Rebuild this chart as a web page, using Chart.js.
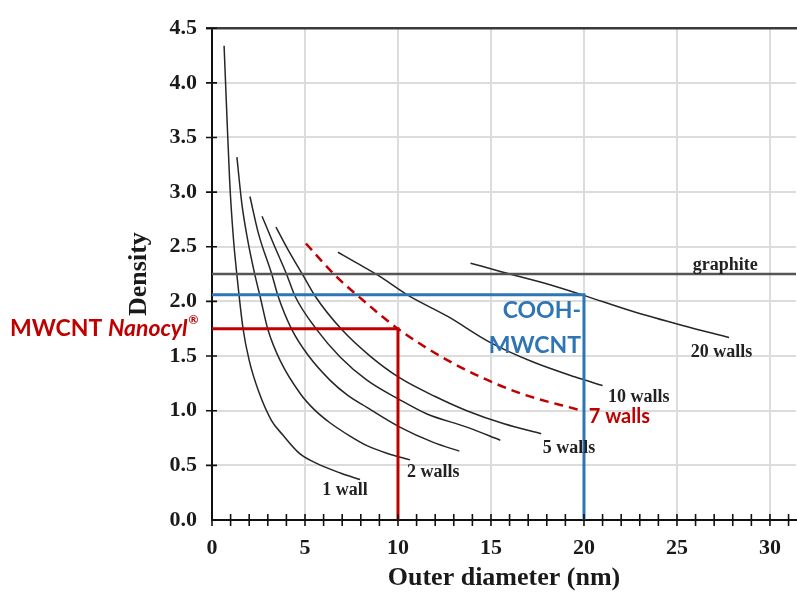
<!DOCTYPE html>
<html>
<head>
<meta charset="utf-8">
<script src="https://cdn.jsdelivr.net/npm/chart.js@4.4.0/dist/chart.umd.min.js"></script>
<style>
    html, body { margin: 0; padding: 0; background: #fff; }
</style>
</head>
<body>
<canvas id="densityChart" width="797" height="596"></canvas>
<script>
// outer diameter (nm) and density for each wall count
var d1 = [0.65, 0.8, 0.95, 1.15, 1.34, 1.67, 2.0, 2.5, 3.2, 3.8, 4.7, 5.6, 6.9, 7.96];
var rho1 = [4.34, 3.7, 3.1, 2.58, 2.24, 1.75, 1.46, 1.18, 0.91, 0.78, 0.61, 0.52, 0.43, 0.37];

var d2 = [1.34, 1.6, 1.9, 2.31, 2.58, 3.01, 3.66, 4.73, 5.5, 6.34, 7.4, 8.33, 9.4, 10.65];
var rho2 = [3.32, 2.9, 2.58, 2.24, 2.05, 1.74, 1.46, 1.16, 1.01, 0.89, 0.77, 0.68, 0.61, 0.55];

var d3 = [2.04, 2.5, 3.23, 3.55, 4.3, 5.2, 6.34, 7.3, 8.33, 10.1, 11.9, 13.3];
var rho3 = [2.96, 2.62, 2.24, 2.05, 1.74, 1.5, 1.28, 1.14, 1.03, 0.85, 0.71, 0.63];

var d4 = [2.69, 3.3, 4.03, 4.46, 5.64, 6.9, 8.33, 10.1, 11.56, 13.7, 15.5];
var rho4 = [2.78, 2.53, 2.24, 2.05, 1.74, 1.49, 1.28, 1.1, 0.97, 0.85, 0.73];

var d5 = [3.44, 4.1, 4.89, 5.54, 6.99, 8.5, 10.1, 12.0, 13.7, 15.7, 17.7];
var rho5 = [2.68, 2.47, 2.24, 2.05, 1.74, 1.5, 1.3, 1.13, 1.0, 0.88, 0.79];

var d7 = [5.05, 6.61, 7.85, 10.0, 12.9, 16.4, 19.9];
var rho7 = [2.53, 2.24, 2.05, 1.75, 1.44, 1.17, 1.0];

var d10 = [6.77, 7.8, 8.92, 10.5, 12.7, 14.9, 17.2, 19.5, 21.0];
var rho10 = [2.45, 2.35, 2.24, 2.06, 1.86, 1.63, 1.45, 1.31, 1.23];

var d20 = [13.9, 15.6, 17.8, 19.9, 22.6, 25.3, 27.8];
var rho20 = [2.35, 2.27, 2.17, 2.06, 1.91, 1.78, 1.67];

// graphite reference density
var graphiteRho = 2.25;

// measured samples: outer diameter and density
var nanocylD = 10;
var nanocylRho = 1.75;
var coohD = 20;
var coohRho = 2.06;

var xMax = 31.4;
var xTickStep = 1;
var yTickStep = 0.5;

function pts(xs, ys) {
    var out = [];
    for (var i = 0; i < xs.length; i++) {
        out.push({ x: xs[i], y: ys[i] });
    }
    return out;
}

var RED = '#c00000';
var BLUE = '#2e75b6';
var CURVE = '#262626';
var SERIF = '"Liberation Serif", "Times New Roman", serif';
var SANS = 'Lato, "Open Sans", sans-serif';

function curve(label, xs, ys) {
    return {
        label: label,
        data: pts(xs, ys),
        showLine: true,
        borderColor: CURVE,
        borderWidth: 1.5,
        pointRadius: 0,
        cubicInterpolationMode: 'monotone',
        fill: false
    };
}

var datasets = [
    {
        label: 'MWCNT Nanocyl',
        data: [{ x: 0, y: nanocylRho }, { x: nanocylD, y: nanocylRho }, { x: nanocylD, y: 0 }],
        showLine: true, borderColor: RED, borderWidth: 3, pointRadius: 0, tension: 0
    },
    {
        label: 'COOH-MWCNT',
        data: [{ x: 0, y: coohRho }, { x: coohD, y: coohRho }, { x: coohD, y: 0 }],
        showLine: true, borderColor: BLUE, borderWidth: 3, pointRadius: 0, tension: 0
    },
    {
        label: 'graphite',
        data: [{ x: 0, y: graphiteRho }, { x: xMax, y: graphiteRho }],
        showLine: true, borderColor: '#555555', borderWidth: 2.5, pointRadius: 0
    },
    {
        label: '7 walls',
        data: pts(d7, rho7),
        showLine: true, borderColor: RED, borderWidth: 2.5, borderDash: [9, 6],
        pointRadius: 0, cubicInterpolationMode: 'monotone'
    },
    curve('1 wall', d1, rho1),
    curve('2 walls', d2, rho2),
    curve('3 walls', d3, rho3),
    curve('4 walls', d4, rho4),
    curve('5 walls', d5, rho5),
    curve('10 walls', d10, rho10),
    curve('20 walls', d20, rho20)
];

// text placed next to the curves, in data coordinates
var curveLabels = [
    { text: 'graphite', x: 27.6, y: 2.33, font: 'bold 18px ' + SERIF, color: '#222' },
    { text: '20 walls', x: 27.4, y: 1.53, font: 'bold 18px ' + SERIF, color: '#222' },
    { text: '10 walls', x: 22.95, y: 1.12, font: 'bold 18px ' + SERIF, color: '#222' },
    { text: '5 walls', x: 19.2, y: 0.66, font: 'bold 18px ' + SERIF, color: '#222' },
    { text: '2 walls', x: 11.9, y: 0.44, font: 'bold 18px ' + SERIF, color: '#222' },
    { text: '1 wall', x: 7.15, y: 0.27, font: 'bold 18px ' + SERIF, color: '#222' },
    { text: '7 walls', x: 21.9, y: 0.95, font: 'bold 20px ' + SANS, color: RED }
];

var annotations = {
    id: 'annotations',
    afterDatasetsDraw: function (chart) {
        var ctx = chart.ctx;
        var xs = chart.scales.x;
        var ys = chart.scales.y;
        var area = chart.chartArea;

        ctx.save();

        // frame: top rule and tick marks crossing both axes
        ctx.strokeStyle = '#3a3a3a';
        ctx.lineWidth = 2.5;
        ctx.beginPath();
        ctx.moveTo(area.left - 6, area.top);
        ctx.lineTo(chart.width, area.top);
        ctx.stroke();

        ctx.strokeStyle = '#111';
        ctx.lineWidth = 1.6;
        ctx.beginPath();
        for (var v = 0; v <= xMax; v += xTickStep) {
            var px = xs.getPixelForValue(v);
            ctx.moveTo(px, area.bottom - 6);
            ctx.lineTo(px, area.bottom + 6);
        }
        for (var w = yTickStep; w <= 4.5; w += yTickStep) {
            var py = ys.getPixelForValue(w);
            ctx.moveTo(area.left - 6, py);
            ctx.lineTo(area.left + 5, py);
        }
        ctx.stroke();

        ctx.textBaseline = 'middle';
        ctx.textAlign = 'center';
        curveLabels.forEach(function (l) {
            ctx.font = l.font;
            ctx.fillStyle = l.color;
            ctx.fillText(l.text, xs.getPixelForValue(l.x), ys.getPixelForValue(l.y));
        });

        // COOH-MWCNT, right aligned against its vertical line
        ctx.font = 'bold 23px ' + SANS;
        ctx.fillStyle = BLUE;
        ctx.textAlign = 'right';
        var bx = xs.getPixelForValue(coohD) - 3;
        ctx.fillText('COOH-', bx, ys.getPixelForValue(1.92));
        ctx.fillText('MWCNT', bx, ys.getPixelForValue(1.6));

        // MWCNT Nanocyl® beside the y axis
        var ny = ys.getPixelForValue(nanocylRho);
        var nx = 10;
        ctx.textAlign = 'left';
        ctx.fillStyle = RED;
        ctx.font = 'bold 23px ' + SANS;
        ctx.fillText('MWCNT ', nx, ny);
        nx += ctx.measureText('MWCNT ').width;
        ctx.font = 'italic bold 23px ' + SANS;
        ctx.fillText('Nanocyl', nx, ny);
        nx += ctx.measureText('Nanocyl').width + 1;
        ctx.font = 'bold 12px ' + SANS;
        ctx.fillText('\u00ae', nx, ny - 9);

        ctx.restore();
    }
};

var ctx = document.getElementById('densityChart');

var densityChart = new Chart(ctx, {
    type: 'scatter',
    data: { datasets: datasets },
    options: {
        responsive: false,
        animation: false,
        layout: { padding: { top: 27, right: 1, left: 0, bottom: 0 } },
        plugins: {
            legend: { display: false },
            tooltip: { enabled: false }
        },
        scales: {
            x: {
                type: 'linear',
                min: 0,
                max: xMax,
                afterFit: function (scale) {
                    scale.height = 76;
                    scale.paddingLeft = 0;
                    scale.paddingRight = 0;
                },
                border: { color: '#111', width: 2 },
                grid: {
                    drawTicks: false,
                    lineWidth: 2,
                    color: function (c) {
                        return c.tick && c.tick.value % 5 === 0 ? '#dcdcdc' : 'rgba(0,0,0,0)';
                    }
                },
                ticks: {
                    stepSize: xTickStep,
                    autoSkip: false,
                    maxRotation: 0,
                    padding: 15,
                    color: '#1a1a1a',
                    font: { family: SERIF, size: 22, weight: 'bold' },
                    callback: function (v) { return v % 5 === 0 ? v : ''; }
                },
                title: {
                    display: true,
                    text: 'Outer diameter (nm)',
                    color: '#1a1a1a',
                    font: { family: SERIF, size: 26, weight: 'bold' },
                    padding: { top: 0, bottom: 2 }
                }
            },
            y: {
                min: 0,
                max: 4.5,
                afterFit: function (scale) { scale.width = 212; },
                border: { color: '#111', width: 2 },
                grid: { drawTicks: false, lineWidth: 2, color: '#dcdcdc' },
                ticks: {
                    stepSize: yTickStep,
                    padding: 15,
                    color: '#1a1a1a',
                    font: { family: SERIF, size: 22, weight: 'bold' },
                    callback: function (v) { return v.toFixed(1); }
                },
                title: {
                    display: true,
                    text: 'Density',
                    color: '#1a1a1a',
                    font: { family: SERIF, size: 26, weight: 'bold' },
                    padding: { top: 124, bottom: 0 }
                }
            }
        }
    },
    plugins: [annotations]
});
</script>
</body>
</html>
